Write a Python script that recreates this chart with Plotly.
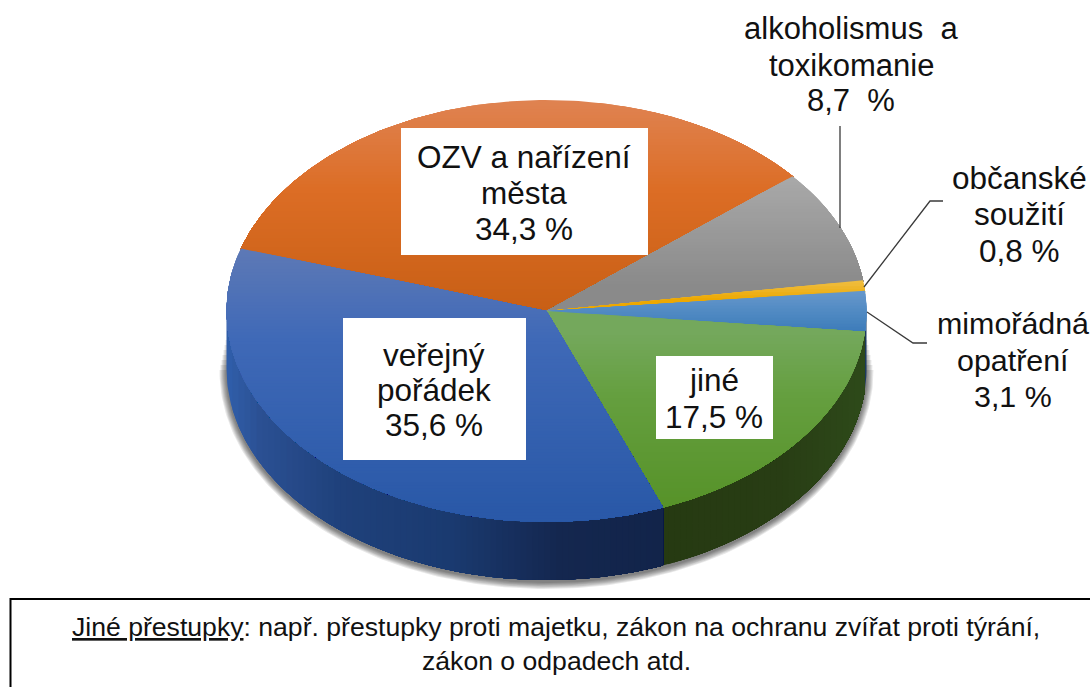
import math
import plotly.graph_objects as go

# ---- data ----
categories = ["OZV a nařízení města", "alkoholismus a toxikomanie", "občanské soužití",
              "mimořádná opatření", "jiné", "veřejný pořádek"]
values = [34.3, 8.7, 0.8, 3.1, 17.5, 35.6]
label_lines = [["OZV a nařízení", "města"], ["alkoholismus\u00a0 a", "toxikomanie"], ["občanské", "soužití"],
               ["mimořádná", "opatření"], ["jiné"], ["veřejný", "pořádek"]]
percent_gap = [" ", "\u00a0 ", " ", " ", " ", " "]
note_line1_head = "Jiné přestupky"
note_line1_tail = ": např. přestupky proti majetku, zákon na ochranu zvířat proti týrání,"
note_line2 = "zákon o odpadech atd."

# ---- geometry (pixels) ----
W, H = 1090, 687
CX, CY, RX, RY, DEPTH = 546.5, 311, 320, 211, 58
START_ANGLE = -73.0
OVERLAP = 0.2

# (y, colour) stops for top faces
top_stops = [
    [(103, "#DF8250"), (190, "#DC6D25"), (311, "#C85F15")],
    [(180, "#A8A8A8"), (285, "#8A8A8A")],
    [(283, "#EFBC3C"), (300, "#EDA800")],
    [(293, "#6497CB"), (333, "#3B7BB9")],
    [(333, "#74A85C"), (395, "#659F3F"), (510, "#569228")],
    [(250, "#5D79B6"), (340, "#3F69B7"), (510, "#2A59A8")],
]
# (x, colour) stops for side walls
side_stops = [
    None, None, None,
    [(846, "#1C3A5F"), (870, "#1C3A5F")],
    [(662, "#263A12"), (780, "#283D14"), (867, "#2E4A1A")],
    [(226, "#305FAB"), (260, "#2B5093"), (340, "#1F417B"), (450, "#1A3A70"), (560, "#14274F"), (662, "#12244A")],
]


def hex2rgb(h):
    return tuple(int(h[i:i + 2], 16) for i in (1, 3, 5))


def colour_at(stops, t):
    if t <= stops[0][0]:
        return stops[0][1]
    for (a, ca), (b, cb) in zip(stops, stops[1:]):
        if t <= b:
            f = (t - a) / (b - a)
            ra, rb = hex2rgb(ca), hex2rgb(cb)
            return "rgb(%d,%d,%d)" % tuple(round(x + (y - x) * f) for x, y in zip(ra, rb))
    return stops[-1][1]


def pt(angle, dy=0.0, rx=RX, ry=RY):
    r = math.radians(angle)
    return (CX + rx * math.sin(r), CY - ry * math.cos(r) + dy)


def arc(a0, a1, dy=0.0, rx=RX, ry=RY):
    n = max(2, int(abs(a1 - a0)) + 2)
    return [pt(a0 + (a1 - a0) * i / (n - 1), dy, rx, ry) for i in range(n)]


def clip_ge(poly, axis, v):
    out = []
    for i, p in enumerate(poly):
        q = poly[(i + 1) % len(poly)]
        pin, qin = p[axis] >= v, q[axis] >= v
        if pin:
            out.append(p)
        if pin != qin:
            f = (v - p[axis]) / (q[axis] - p[axis])
            out.append((p[0] + (q[0] - p[0]) * f, p[1] + (q[1] - p[1]) * f))
    return out


fig = go.Figure()


def add_poly(poly, colour):
    if len(poly) < 3:
        return
    xs = [p[0] for p in poly] + [poly[0][0]]
    ys = [p[1] for p in poly] + [poly[0][1]]
    fig.add_trace(go.Scatter(x=xs, y=ys, mode="lines", fill="toself", fillcolor=colour,
                             line=dict(width=0, color=colour), hoverinfo="skip", showlegend=False))


def add_gradient(poly, axis, stops, step):
    lo = min(p[axis] for p in poly)
    hi = max(p[axis] for p in poly)
    v = lo
    while v < hi:
        part = poly if v == lo else clip_ge(poly, axis, v)
        add_poly(part, colour_at(stops, v + step / 2))
        v += step


# angles of every slice, cumulated from the values
angles = []
a = START_ANGLE
for v in values:
    angles.append((a, a + v * 3.6))
    a += v * 3.6

# soft shadow under the body, fading out towards the top of the wall
for k in (7, 6, 5, 4, 3, 2, 1):
    rim = arc(90, 270, DEPTH + 2, RX + k, RY + k)
    top = CY + 24 + 5 * k
    add_poly(clip_ge([(CX + RX + k, CY + 24)] + rim[1:-1] + [(CX - RX - k, CY + 24)], 1, top), "rgba(0,0,0,0.09)")

# side walls
for (a0, a1), stops in zip(angles, side_stops):
    lo, hi = max(a0 - OVERLAP, 90), min(a1, 270)
    if stops is None or hi <= lo:
        continue
    wall = arc(lo, hi) + arc(hi, lo, DEPTH)
    add_gradient(wall, 0, stops, 6)

# top faces
for (a0, a1), stops in zip(angles, top_stops):
    sector = [(CX, CY)] + arc(a0 - OVERLAP, a1 + OVERLAP)
    add_gradient(sector, 1, stops, 3)

pct = [f"{v:.1f}".replace(".", ",") + gap + "%" for v, gap in zip(values, percent_gap)]
label_rows = [lines + [p] for lines, p in zip(label_lines, pct)]

FONT = "Liberation Sans, Arial, sans-serif"
label_x = [524, 851, 1019, 1013, 714, 434]
label_y = [[157, 193, 229], [28, 65, 100], [178, 214, 251], [323, 360, 396], [380, 417], [355, 390, 425]]
label_size = [31.5, 31, 31.5, 30.4, 31.5, 31.5]
for rows, x, ys, size in zip(label_rows, label_x, label_y, label_size):
    for row, y in zip(rows, ys):
        fig.add_annotation(x=x, y=y, xref="x", yref="y", text=row, showarrow=False,
                           font=dict(family=FONT, size=size, color="#111111"), align="center",
                           xanchor="center", yanchor="middle")

boxes = [(401, 128, 648, 255), (343, 318, 526, 460), (656, 356, 773, 439)]
shapes = [dict(type="rect", xref="x", yref="y", x0=b[0], y0=b[1], x1=b[2], y1=b[3],
               fillcolor="white", line=dict(width=0), layer="above") for b in boxes]

leaders = ["M840 126 L840 228", "M864 287 L930 201 L943 201", "M867 312 L913 343 L927 343"]
shapes += [dict(type="path", xref="x", yref="y", path=p, line=dict(color="#3A3A3A", width=1.3),
                layer="above") for p in leaders]

shapes.append(dict(type="rect", xref="x", yref="y", x0=10.5, y0=599, x1=1100, y1=700,
                   fillcolor="rgba(0,0,0,0)", line=dict(color="#000000", width=2), layer="above"))

fig.add_annotation(x=556, y=627, xref="x", yref="y",
                   text=f"<u>{note_line1_head}</u>{note_line1_tail}", showarrow=False,
                   font=dict(family=FONT, size=26.6, color="#111111"), xanchor="center", yanchor="middle")
fig.add_annotation(x=556, y=661, xref="x", yref="y", text=note_line2, showarrow=False,
                   font=dict(family=FONT, size=26.6, color="#111111"), xanchor="center", yanchor="middle")

fig.update_layout(
    width=W, height=H, margin=dict(l=0, r=0, t=0, b=0), autosize=False,
    paper_bgcolor="white", plot_bgcolor="white", showlegend=False, shapes=shapes,
    xaxis=dict(range=[0, W], visible=False, fixedrange=True),
    yaxis=dict(range=[H, 0], visible=False, fixedrange=True),
)
fig.write_html("out.html", config=dict(displayModeBar=False),
               post_script="document.body.style.margin='0';document.body.style.overflow='hidden';")
